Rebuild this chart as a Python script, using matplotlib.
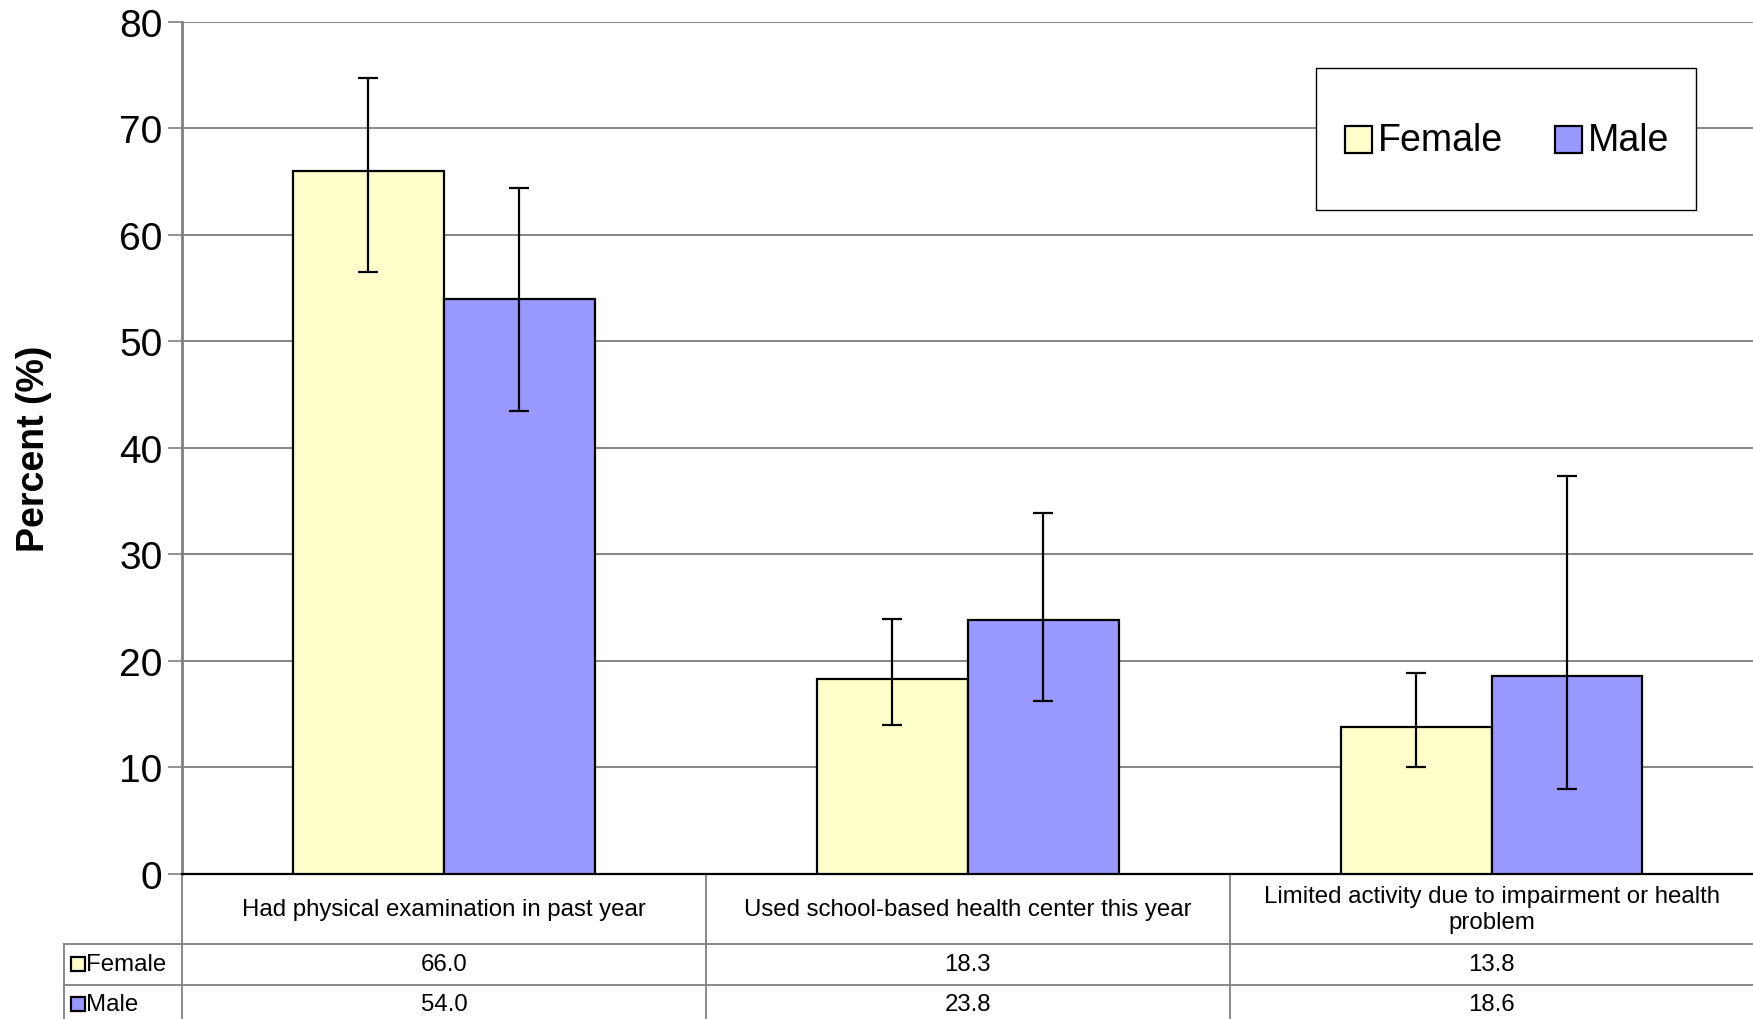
import matplotlib

matplotlib.use("Agg")
import matplotlib.pyplot as plt  # noqa: E402
from matplotlib.container import BarContainer  # noqa: E402
from matplotlib.legend_handler import HandlerPatch, update_from_first_child  # noqa: E402
from matplotlib.patches import Rectangle  # noqa: E402
from matplotlib.transforms import blended_transform_factory  # noqa: E402

# ---- data ----
categories = [
    "Had physical examination in past year",
    "Used school-based health center this year",
    "Limited activity due to impairment or health\nproblem",
]
series = ["Female", "Male"]
female = [66.0, 18.3, 13.8]
male = [54.0, 23.8, 18.6]
female_lo = [56.5, 14.0, 10.0]
female_hi = [74.7, 23.9, 18.9]
male_lo = [43.5, 16.2, 8.0]
male_hi = [64.4, 33.9, 37.4]
yticks = [0, 10, 20, 30, 40, 50, 60, 70, 80]

COLORS = {"Female": "#FFFFCC", "Male": "#9999FF"}
FONT = ["Liberation Sans", "DejaVu Sans"]
plt.rcParams["font.family"] = FONT

W = 0.288
TFS = 17.3  # table font size
x = list(range(len(categories)))


def small_square(legend, orig_handle, xdescent, ydescent, width, height,
                 fontsize):
    # fixed-size square in a tall handle box, so the frame gets taller
    s = 0.72 * fontsize
    return Rectangle((-xdescent + (width - s) / 2,
                      -ydescent + (height - s) / 2), s, s)


fig = plt.figure(figsize=(17.53, 10.2), dpi=100)
ax = fig.add_axes([0.1038, 0.1422, 0.8965, 0.8353])

vals = {"Female": female, "Male": male}
los = {"Female": female_lo, "Male": male_lo}
his = {"Female": female_hi, "Male": male_hi}
for k, name in enumerate(series):
    off = -W / 2 if k == 0 else W / 2
    xs = [i + off for i in x]
    v = vals[name]
    err = [[a - b for a, b in zip(v, los[name])],
           [b - a for a, b in zip(v, his[name])]]
    ax.bar(xs, v, width=W, color=COLORS[name], edgecolor="black",
           linewidth=1.6, label=name, zorder=3)
    ax.errorbar(xs, v, yerr=err, fmt="none", ecolor="black", elinewidth=1.6,
                capsize=7, capthick=1.6, zorder=4)

ax.set_xlim(-0.5, 2.5)
ax.set_ylim(0, 80)
ax.set_yticks(yticks)
ax.set_xticks([])
ax.tick_params(axis="y", labelsize=28, length=10, width=1.2, color="#808080",
               pad=4)
ax.yaxis.grid(True, color="#666666", linewidth=1.1, zorder=0)
ax.set_axisbelow(True)
for s in ("top", "right"):
    ax.spines[s].set_visible(False)
ax.spines["left"].set_color("#808080")
ax.spines["left"].set_linewidth(2)
ax.spines["bottom"].set_color("black")
ax.spines["bottom"].set_linewidth(1.6)
ax.set_ylabel("Percent (%)", fontsize=27, fontweight="bold", labelpad=48)

sq_handler = HandlerPatch(patch_func=small_square,
                          update_func=update_from_first_child)
leg = ax.legend(loc="upper right", bbox_to_anchor=(0.9637, 0.946), ncol=2,
                fontsize=27, frameon=True, fancybox=False, edgecolor="black",
                framealpha=1, borderpad=0.72, handlelength=0.8,
                handleheight=3.25, handletextpad=0.12, columnspacing=1.35,
                borderaxespad=0, handler_map={BarContainer: sq_handler})
leg.get_frame().set_linewidth(1.0)
for h in leg.legend_handles:
    h.set_linewidth(1.6)

# ---- data table under the axis ----
tr = blended_transform_factory(ax.transData, ax.transAxes)
hdr_bot, fem_bot, male_bot = -0.0822, -0.130, -0.19
lab_left = -0.725
lc = "#808080"
kw = dict(transform=tr, clip_on=False, color=lc, linewidth=1.3)
for b in (-0.5, 0.5, 1.5):
    ax.plot([b, b], [0, male_bot], **kw)
ax.plot([lab_left, lab_left], [hdr_bot, male_bot], **kw)
ax.plot([lab_left, 2.5], [hdr_bot, hdr_bot], **kw)
ax.plot([lab_left, 2.5], [fem_bot, fem_bot], **kw)

row_y = {"Female": (hdr_bot + fem_bot) / 2,
         "Male": fem_bot - (hdr_bot - fem_bot) * 0.47}
for i, cat in enumerate(categories):
    ax.text(i, hdr_bot / 2, cat, transform=tr, ha="center", va="center",
            fontsize=TFS, linespacing=1.25)
    ax.text(i, row_y["Female"], f"{female[i]:.1f}", transform=tr,
            ha="center", va="center", fontsize=TFS)
    ax.text(i, row_y["Male"], f"{male[i]:.1f}", transform=tr,
            ha="center", va="center", fontsize=TFS)

for name in series:
    ax.plot([-0.698], [row_y[name]], marker="s", markersize=10,
            markerfacecolor=COLORS[name], markeredgecolor="black",
            markeredgewidth=1.6, transform=tr, clip_on=False, linestyle="none")
    ax.text(-0.684, row_y[name], name, transform=tr, ha="left", va="center",
            fontsize=TFS)

fig.savefig("out.png", dpi=100)
